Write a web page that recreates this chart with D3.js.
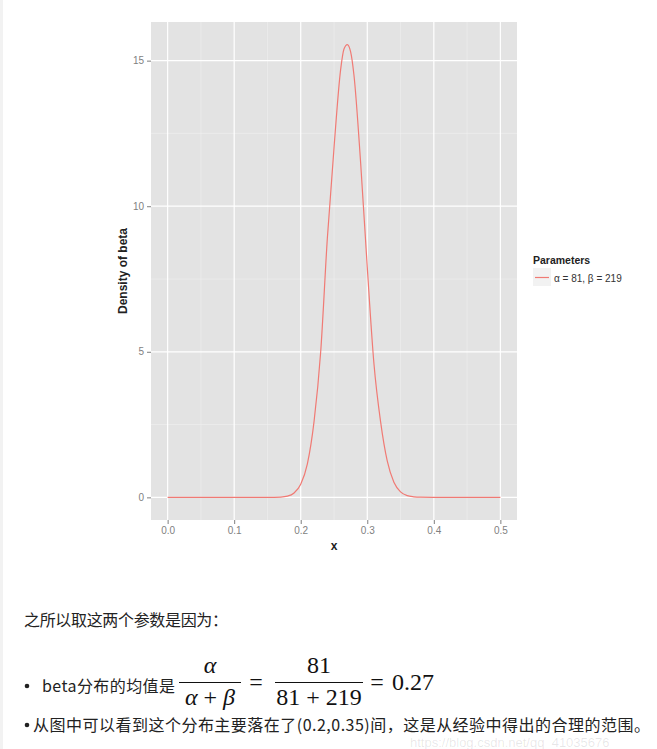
<!DOCTYPE html>
<html>
<head>
<meta charset="utf-8">
<script src="https://cdn.jsdelivr.net/npm/d3@7"></script>
<style>
   body { margin: 0; background: #fff; }
   svg { display: block; }
</style>
</head>
<body>
<svg id="chart" width="657" height="749"></svg>
<script>
// values
const xValues = [0, 0.05, 0.1, 0.15, 0.17, 0.18, 0.19, 0.20, 0.21, 0.22, 0.23, 0.24, 0.25, 0.26, 0.265,
                 0.27, 0.275, 0.28, 0.29, 0.30, 0.31, 0.32, 0.33, 0.34, 0.35, 0.36, 0.37, 0.38, 0.40, 0.45, 0.5];
const densityValues = [0, 0, 0, 0, 0.01, 0.04, 0.15, 0.45, 1.15, 2.6, 5.0, 8.9, 12.0, 14.7, 15.4,
                       15.55, 15.3, 14.5, 11.5, 7.9, 4.6, 2.6, 1.25, 0.52, 0.19, 0.06, 0.02, 0.005, 0, 0, 0];
const xTicks = [0, 0.1, 0.2, 0.3, 0.4, 0.5];
const xMinor = [0.05, 0.15, 0.25, 0.35, 0.45];
const yTicks = [0, 5, 10, 15];
const yMinor = [2.5, 7.5, 12.5];
const legendTitle = "Parameters";
const seriesNames = ["α = 81, β = 219"];
const seriesColors = ["#F07A74"];

window.onload = function() {
   drawChart();
   drawText();
}

function drawChart() {
   let panel = {left: 151, right: 517, top: 22, bottom: 520};
   let svg = d3.select("#chart");

   // thin grey strip at the page's left edge
   svg.append("rect").attr("x", 0).attr("y", 0).attr("width", 3).attr("height", 749).attr("fill", "#f2f2f2");

   // ggplot style expansion of 5% each side
   let x = d3.scaleLinear().domain([-0.025, 0.525]).range([panel.left, panel.right]);
   let ymax = d3.max(densityValues);
   let y = d3.scaleLinear().domain([-ymax * 0.05, ymax * 1.05]).range([panel.bottom, panel.top]);

   svg.append("rect")
      .attr("x", panel.left).attr("y", panel.top)
      .attr("width", panel.right - panel.left).attr("height", panel.bottom - panel.top)
      .attr("fill", "#E3E3E3");

   // minor grid
   svg.append("g").selectAll("line").data(xMinor).join("line")
      .attr("x1", d => x(d)).attr("x2", d => x(d))
      .attr("y1", panel.top).attr("y2", panel.bottom)
      .attr("stroke", "#F0F0F0").attr("stroke-width", 0.6);
   svg.append("g").selectAll("line").data(yMinor).join("line")
      .attr("y1", d => y(d)).attr("y2", d => y(d))
      .attr("x1", panel.left).attr("x2", panel.right)
      .attr("stroke", "#F0F0F0").attr("stroke-width", 0.6);
   // major grid
   svg.append("g").selectAll("line").data(xTicks).join("line")
      .attr("x1", d => x(d)).attr("x2", d => x(d))
      .attr("y1", panel.top).attr("y2", panel.bottom)
      .attr("stroke", "#FFFFFF").attr("stroke-width", 1.2);
   svg.append("g").selectAll("line").data(yTicks).join("line")
      .attr("y1", d => y(d)).attr("y2", d => y(d))
      .attr("x1", panel.left).attr("x2", panel.right)
      .attr("stroke", "#FFFFFF").attr("stroke-width", 1.2);

   // axes
   let bottomAxis = d3.axisBottom(x).tickValues(xTicks).tickFormat(d3.format(".1f")).tickSize(4).tickPadding(3);
   let gx = svg.append("g").attr("transform", "translate(0," + panel.bottom + ")").call(bottomAxis);
   let leftAxis = d3.axisLeft(y).tickValues(yTicks).tickFormat(d3.format("d")).tickSize(4).tickPadding(3);
   let gy = svg.append("g").attr("transform", "translate(" + panel.left + ",0)").call(leftAxis);
   [gx, gy].forEach(g => {
      g.select(".domain").remove();
      g.selectAll(".tick line").attr("stroke", "#7F7F7F");
      g.selectAll(".tick text")
         .attr("fill", "#7F7F7F")
         .style("font-family", "'Liberation Sans', Arial, sans-serif")
         .style("font-size", "10px");
   });

   // density line
   let line = d3.line()
      .x((d, i) => x(xValues[i]))
      .y(d => y(d))
      .curve(d3.curveMonotoneX);
   svg.append("path")
      .attr("d", line(densityValues))
      .attr("fill", "none")
      .attr("stroke", seriesColors[0])
      .attr("stroke-width", 1.2);

   // axis titles
   svg.append("text")
      .attr("x", (panel.left + panel.right) / 2).attr("y", 550)
      .attr("text-anchor", "middle")
      .style("font-family", "'Liberation Sans', Arial, sans-serif")
      .style("font-size", "12px").style("font-weight", "bold").attr("fill", "#222")
      .text("x");
   svg.append("text")
      .attr("transform", "translate(127," + ((panel.top + panel.bottom) / 2) + ") rotate(-90)")
      .attr("text-anchor", "middle")
      .style("font-family", "'Liberation Sans', Arial, sans-serif")
      .style("font-size", "12px").style("font-weight", "bold").attr("fill", "#222")
      .text("Density of beta");

   // legend
   let lg = svg.append("g").attr("transform", "translate(533,0)");
   lg.append("text").attr("x", 0).attr("y", 264)
      .style("font-family", "'Liberation Sans', Arial, sans-serif")
      .style("font-size", "10.5px").style("font-weight", "bold").attr("fill", "#222")
      .text(legendTitle);
   lg.selectAll("g.key").data(seriesNames).join("g").attr("class", "key")
      .each(function(d, i) {
         let k = d3.select(this).attr("transform", "translate(0," + (268 + i * 18) + ")");
         k.append("rect").attr("width", 18).attr("height", 18).attr("fill", "#F2F2F2");
         k.append("line").attr("x1", 2).attr("x2", 16).attr("y1", 9.5).attr("y2", 9.5)
            .attr("stroke", seriesColors[i]).attr("stroke-width", 1.2);
         k.append("text").attr("x", 21).attr("y", 13.5)
            .style("font-family", "'Liberation Sans', Arial, sans-serif")
            .style("font-size", "10px").attr("fill", "#333")
            .text(d);
      });
}

function drawText() {
   let svg = d3.select("#chart");
   let cjk = "'Noto Sans CJK SC', 'Noto Sans', sans-serif";
   let math = "'Liberation Serif', 'DejaVu Serif', serif";

   svg.append("text").attr("x", 24).attr("y", 626)
      .attr("textLength", 204).attr("lengthAdjust", "spacing")
      .style("font-family", cjk).style("font-size", "16px").attr("fill", "#222")
      .text("之所以取这两个参数是因为：");

   // bullet 1 with the formula
   svg.append("circle").attr("cx", 27).attr("cy", 686).attr("r", 2.3).attr("fill", "#222");
   svg.append("text").attr("x", 42).attr("y", 692)
      .attr("textLength", 133).attr("lengthAdjust", "spacing")
      .style("font-family", cjk).style("font-size", "16px").attr("fill", "#222")
      .text("beta分布的均值是");

   let f = svg.append("g").style("font-family", math).style("font-size", "24px").attr("fill", "#111");
   // fraction alpha / (alpha + beta)
   f.append("text").attr("x", 210).attr("y", 673).attr("text-anchor", "middle").style("font-style", "italic").text("α");
   f.append("line").attr("x1", 179).attr("x2", 241).attr("y1", 682.5).attr("y2", 682.5).attr("stroke", "#111").attr("stroke-width", 1);
   let den = f.append("text").attr("x", 210).attr("y", 705).attr("text-anchor", "middle");
   den.append("tspan").style("font-style", "italic").text("α");
   den.append("tspan").text(" + ");
   den.append("tspan").style("font-style", "italic").text("β");
   f.append("text").attr("x", 256).attr("y", 690).attr("text-anchor", "middle").text("=");
   // fraction 81 / (81 + 219)
   f.append("text").attr("x", 319).attr("y", 673).attr("text-anchor", "middle").text("81");
   f.append("line").attr("x1", 275).attr("x2", 363).attr("y1", 682.5).attr("y2", 682.5).attr("stroke", "#111").attr("stroke-width", 1);
   f.append("text").attr("x", 319).attr("y", 705).attr("text-anchor", "middle").text("81 + 219");
   f.append("text").attr("x", 377).attr("y", 690).attr("text-anchor", "middle").text("=");
   f.append("text").attr("x", 392).attr("y", 690).text("0.27");

   // bullet 2
   svg.append("circle").attr("cx", 27).attr("cy", 725).attr("r", 2.3).attr("fill", "#222");
   svg.append("text").attr("x", 33).attr("y", 731)
      .attr("textLength", 617).attr("lengthAdjust", "spacing")
      .style("font-family", cjk).style("font-size", "16px").attr("fill", "#222")
      .text("从图中可以看到这个分布主要落在了(0.2,0.35)间，这是从经验中得出的合理的范围。");

   // faint watermark
   svg.append("text").attr("x", 410).attr("y", 747)
      .style("font-family", "'Liberation Sans', Arial, sans-serif").style("font-size", "13px")
      .attr("fill", "#000").attr("fill-opacity", 0.1)
      .text("https://blog.csdn.net/qq_41035676");
}
</script>
</body>
</html>
